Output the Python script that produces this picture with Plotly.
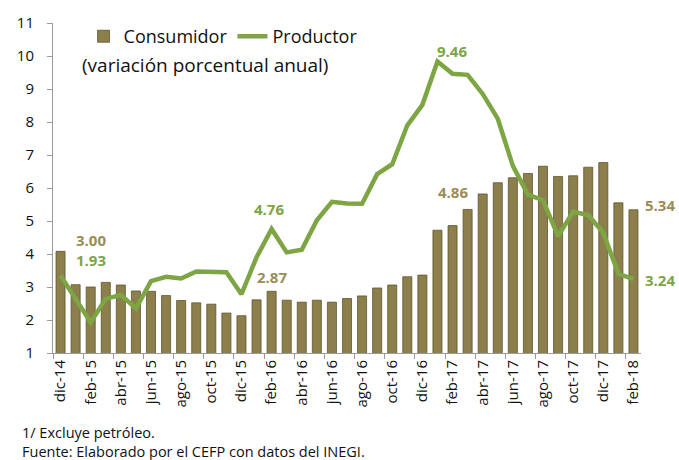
import plotly.graph_objects as go

# meses de dic-14 a feb-18
meses = ["dic-14", "ene-15", "feb-15", "mar-15", "abr-15", "may-15", "jun-15", "jul-15",
         "ago-15", "sep-15", "oct-15", "nov-15", "dic-15", "ene-16", "feb-16", "mar-16",
         "abr-16", "may-16", "jun-16", "jul-16", "ago-16", "sep-16", "oct-16", "nov-16",
         "dic-16", "ene-17", "feb-17", "mar-17", "abr-17", "may-17", "jun-17", "jul-17",
         "ago-17", "sep-17", "oct-17", "nov-17", "dic-17", "ene-18", "feb-18"]

consumidor = [4.08, 3.07, 3.00, 3.14, 3.06, 2.88, 2.87, 2.74, 2.59, 2.52, 2.48, 2.21,
              2.13, 2.61, 2.87, 2.60, 2.54, 2.60, 2.54, 2.65, 2.73, 2.97, 3.06, 3.31,
              3.36, 4.72, 4.86, 5.35, 5.82, 6.16, 6.31, 6.44, 6.66, 6.35, 6.37, 6.63,
              6.77, 5.55, 5.34]

productor = [3.35, 2.61, 1.93, 2.64, 2.76, 2.35, 3.18, 3.31, 3.26, 3.47, 3.47, 3.45,
             2.78, 3.90, 4.76, 4.05, 4.13, 5.02, 5.58, 5.53, 5.52, 6.42, 6.72, 7.90,
             8.52, 9.83, 9.46, 9.43, 8.85, 8.10, 6.67, 5.80, 5.63, 4.54, 5.28, 5.18,
             4.64, 3.40, 3.24]

x = list(range(len(meses)))
etiquetas_idx = [i for i in x if i % 2 == 0]

color_barra = "#8C7F4B"
color_linea = "#7DA543"
color_cafe = "#9C8C55"
fuente = "Open Sans"

fig = go.Figure()
fig.add_trace(go.Bar(
    x=x, y=consumidor, name="Consumidor",
    marker=dict(color=color_barra, line=dict(color="#5E5530", width=0.8)),
))
fig.add_trace(go.Scatter(
    x=x, y=productor, name="Productor", mode="lines",
    line=dict(color=color_linea, width=4.5),
))

# etiquetas de febrero
notas = [
    (2, consumidor[2], color_cafe, 0, 47),
    (2, productor[2], color_linea, 0, 62),
    (14, consumidor[14], color_cafe, 0, 14),
    (14, productor[14], color_linea, -3, 20),
    (26, consumidor[26], color_cafe, 0, 34),
    (26, productor[26], color_linea, -1, 23),
    (38, consumidor[38], color_cafe, 27, 5),
    (38, productor[38], color_linea, 27, -1),
]
for xi, yi, c, dx, dy in notas:
    fig.add_annotation(x=xi, y=yi, text="<b>%.2f</b>" % yi, showarrow=False,
                       xshift=dx, yshift=dy,
                       font=dict(family=fuente, size=15, color=c))

fig.add_annotation(xref="paper", yref="paper", x=0.046, y=0.872, xanchor="left",
                   yanchor="middle", text="(variación porcentual anual)", showarrow=False,
                   font=dict(family=fuente, size=19, color="#111"))
fig.add_annotation(xref="paper", yref="paper", x=-0.056, y=-0.24, xanchor="left",
                   yanchor="middle", text="1/ Excluye petróleo.", showarrow=False,
                   font=dict(family=fuente, size=14.5, color="#111"))
fig.add_annotation(xref="paper", yref="paper", x=-0.056, y=-0.298, xanchor="left",
                   yanchor="middle", text="Fuente: Elaborado por el CEFP con datos del INEGI.",
                   showarrow=False, font=dict(family=fuente, size=14.5, color="#111"))

fig.update_layout(
    width=679, height=460,
    margin=dict(l=53, r=38, t=17, b=107),
    paper_bgcolor="white", plot_bgcolor="white",
    bargap=0.4,
    font=dict(family=fuente, size=14, color="#111"),
    showlegend=True,
    legend=dict(orientation="h", x=0.052, y=1.015, xanchor="left", yanchor="top",
                font=dict(family=fuente, size=18, color="#111"),
                bgcolor="rgba(0,0,0,0)", itemwidth=30, tracegroupgap=0),
)
fig.update_xaxes(
    range=[-0.5, 38.5], tickmode="array", tickvals=etiquetas_idx,
    ticktext=[meses[i] for i in etiquetas_idx], tickangle=-90, ticks="",
    showline=True, linecolor="#9a9a9a", linewidth=1, showgrid=False, zeroline=False,
    tickfont=dict(family=fuente, size=15),
    minor=dict(tickvals=[i - 0.5 for i in etiquetas_idx], ticks="outside",
               ticklen=5, tickcolor="#9a9a9a", showgrid=False),
)
fig.update_yaxes(
    range=[1, 11], dtick=1, ticks="outside", ticklen=5, tickcolor="#9a9a9a",
    showline=True, linecolor="#9a9a9a", linewidth=1, showgrid=False, zeroline=False,
    tickfont=dict(family=fuente, size=15), ticklabelstandoff=10,
)

# sin margen del body ni barras de desplazamiento
fig.write_html("out.html", config={"displayModeBar": False},
               post_script="document.body.style.margin='0';"
                           "document.body.style.overflow='hidden';")
